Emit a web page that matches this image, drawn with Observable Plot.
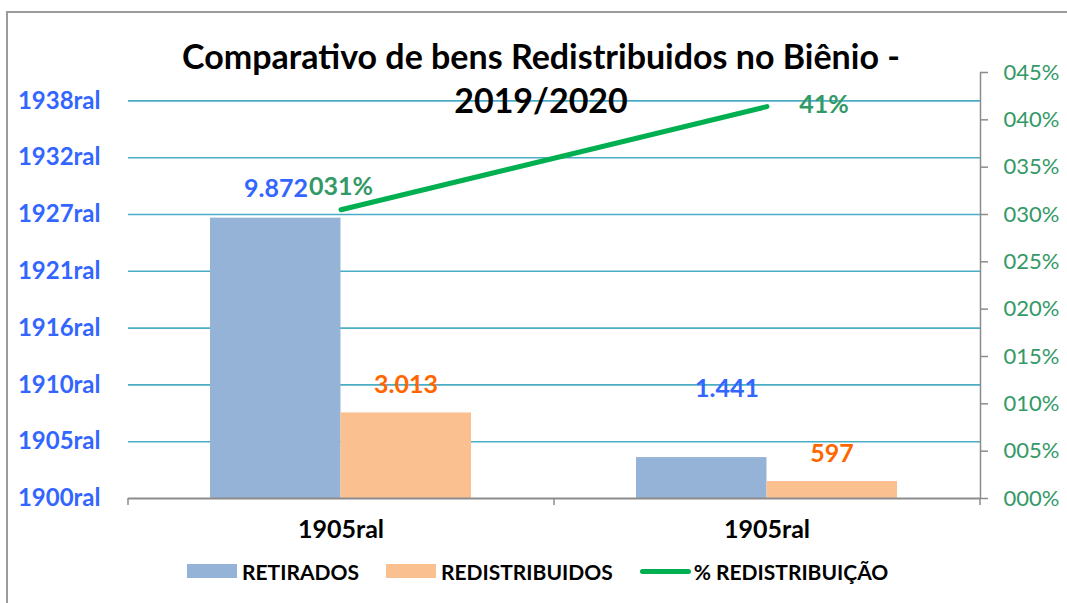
<!DOCTYPE html>
<html>
<head>
<meta charset="utf-8">
<script src="https://cdn.jsdelivr.net/npm/d3@7"></script>
<script src="https://cdn.jsdelivr.net/npm/@observablehq/plot@0.6"></script>
<style>
  html, body { margin: 0; padding: 0; background: #fff; overflow: hidden; }
  #wrap { position: relative; width: 1067px; height: 603px; font-family: Lato, "Open Sans", sans-serif; overflow: hidden; }
  #frame { position: absolute; left: 6px; top: 11px; width: 1200px; height: 800px; border-left: 2px solid #9c9c9c; border-top: 2px solid #9c9c9c; }
  .layer { position: absolute; left: 0; top: 0; }
  #title { position: absolute; left: 0; width: 1082px; top: 34px; text-align: center; font-weight: 700; font-size: 34px; line-height: 44px; color: #000; }
  #legend { position: absolute; left: 187px; top: 559px; height: 24px; display: flex; align-items: center; font-weight: 700; font-size: 21px; color: #000; }
  .item { display: flex; align-items: center; margin-right: 27px; }
  .sw { width: 50px; height: 14px; margin-right: 5px; }
  .ln { width: 51px; height: 5px; border-radius: 3px; margin-right: 3px; }
</style>
</head>
<body>
<div id="wrap">
  <div id="frame"></div>
  <div id="plotA" class="layer"></div>
  <div id="plotB" class="layer"></div>
  <div id="title"></div>
  <div id="legend"></div>
</div>
<script>
// ---- data ----
const years = [2019, 2020];
const categoryLabels = ["1905ral", "1905ral"];
const seriesNames = ["RETIRADOS", "REDISTRIBUIDOS", "% REDISTRIBUIÇÃO"];
const retirados = [9872, 1441];
const redistribuidos = [3013, 597];
const pctRedistribuicao = [0.305, 0.414];
const pctLabels = ["031%", "41%"];
const leftTicks = [0, 2000, 4000, 6000, 8000, 10000, 12000, 14000];
const leftTickLabels = ["1900ral", "1905ral", "1910ral", "1916ral", "1921ral", "1927ral", "1932ral", "1938ral"];
const rightTicks = [0, 0.05, 0.10, 0.15, 0.20, 0.25, 0.30, 0.35, 0.40, 0.45];
const titleLines = ["Comparativo de bens Redistribuidos no Biênio -", "2019/2020"];

// ---- styles ----
const colors = { retirados: "#95B3D7", redistribuidos: "#FAC090", line: "#00B050", blue: "#3366FF", orange: "#FF6600", green: "#339966", grid: "#4BACC6", axis: "#8c8c8c" };

const rows = years.map((y, i) => ({ year: y, retirados: retirados[i], redistribuidos: redistribuidos[i], pct: pctRedistribuicao[i], pctLabel: pctLabels[i] }));
const br = d3.formatLocale({ decimal: ",", thousands: ".", grouping: [3], currency: ["R$", ""] }).format(",d");

const W = 1067, H = 603;
const margins = { marginLeft: 128, marginRight: 87, marginTop: 72, marginBottom: 105 };
const xScale = { type: "band", domain: years, paddingInner: 0.387, paddingOuter: 0.1935, label: null };
const half = 130.5;
const labelFont = { fontSize: 25, fontWeight: "bold", fontFamily: "Lato" };

const plotA = Plot.plot({
  width: W, height: H, ...margins,
  style: { background: "transparent", fontFamily: "Lato", overflow: "visible" },
  x: xScale,
  y: { domain: [0, 15000], label: null },
  marks: [
    Plot.ruleY(leftTicks.slice(1), { stroke: colors.grid, strokeWidth: 1.6 }),
    Plot.barY(rows, { x: "year", y: "retirados", fill: colors.retirados, insetRight: half, insetLeft: 0 }),
    Plot.barY(rows, { x: "year", y: "redistribuidos", fill: colors.redistribuidos, insetLeft: half, insetRight: 0 }),
    Plot.ruleY([0], { stroke: colors.axis, strokeWidth: 2 }),
    Plot.axisY(leftTicks, { label: null, tickFormat: d => leftTickLabels[leftTicks.indexOf(d)], tickSize: 0, tickPadding: 28, fontSize: 24, fontWeight: "bold", fill: colors.blue, fontFamily: "Lato" }),
    Plot.axisX({ label: null, tickSize: 0, tickPadding: 22, tickFormat: d => categoryLabels[years.indexOf(d)], fontSize: 25, fontWeight: "bold", fill: "#000", fontFamily: "Lato" }),
    Plot.axisX(years, { label: null, tickSize: 7, tickFormat: () => "", dx: -213, stroke: colors.axis, strokeWidth: 1.5 }),
    Plot.axisX([2020], { label: null, tickSize: 7, tickFormat: () => "", dx: 213, stroke: colors.axis, strokeWidth: 1.5 }),
    // value labels
    Plot.text(rows.filter(d => d.year === 2019), { x: "year", y: "retirados", text: d => br(d.retirados), dx: -65, dy: -29, fill: colors.blue, ...labelFont }),
    Plot.text(rows.filter(d => d.year === 2020), { x: "year", y: "retirados", text: d => br(d.retirados), dx: -40, dy: -69, fill: colors.blue, ...labelFont }),
    Plot.text(rows, { x: "year", y: "redistribuidos", text: d => br(d.redistribuidos), dx: 65, dy: -28, fill: colors.orange, ...labelFont })
  ]
});
document.getElementById("plotA").appendChild(plotA);

const plotB = Plot.plot({
  width: W, height: H, ...margins,
  style: { background: "transparent", fontFamily: "Lato", overflow: "visible" },
  x: { ...xScale, axis: null },
  y: { domain: [0, 0.45], axis: null, label: null },
  marks: [
    Plot.frame({ anchor: "right", stroke: colors.axis, strokeWidth: 1.5 }),
    Plot.axisY(rightTicks, { anchor: "right", label: null, tickSize: 7, tickPadding: 16, tickFormat: d3.format("04.0%"), fontSize: 22, fill: colors.green, stroke: colors.axis, strokeWidth: 1.5, fontFamily: "Lato" }),
    Plot.lineY(rows, { x: "year", y: "pct", stroke: colors.line, strokeWidth: 5, strokeLinecap: "round" }),
    Plot.text(rows.filter(d => d.year === 2019), { x: "year", y: "pct", text: "pctLabel", dx: 0, dy: -23, fill: colors.green, ...labelFont }),
    Plot.text(rows.filter(d => d.year === 2020), { x: "year", y: "pct", text: "pctLabel", dx: 57, dy: -2, fill: colors.green, ...labelFont })
  ]
});
document.getElementById("plotB").appendChild(plotB);

// title
const t = document.getElementById("title");
titleLines.forEach(s => { const d = document.createElement("div"); d.textContent = s; t.appendChild(d); });

// legend
const lg = document.getElementById("legend");
const legendColors = [colors.retirados, colors.redistribuidos, colors.line];
seriesNames.forEach((name, i) => {
  const it = document.createElement("div"); it.className = "item";
  const sw = document.createElement("div"); sw.className = i === 2 ? "ln" : "sw"; sw.style.background = legendColors[i];
  const tx = document.createElement("span"); tx.textContent = name;
  it.appendChild(sw); it.appendChild(tx); lg.appendChild(it);
});
</script>
</body>
</html>
